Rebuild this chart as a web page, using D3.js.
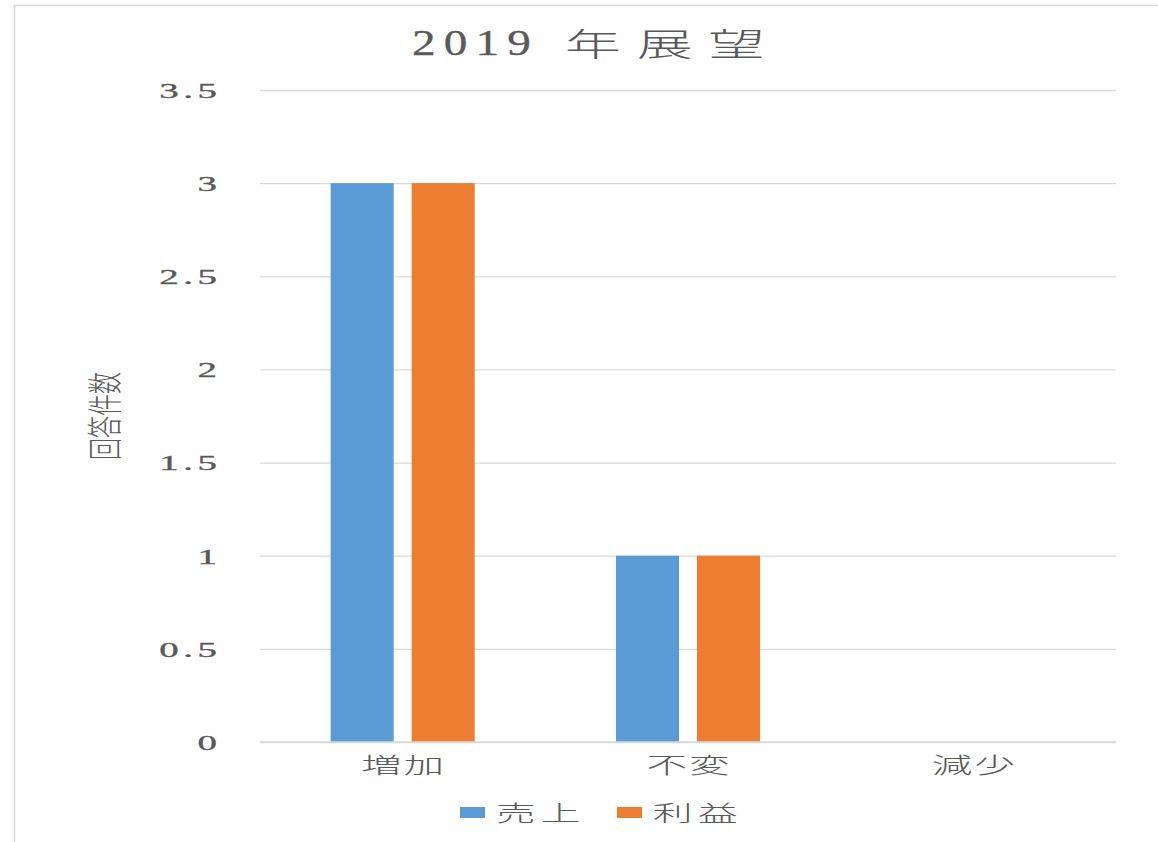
<!DOCTYPE html>
<html><head><meta charset="utf-8">
<script src="https://cdn.jsdelivr.net/npm/d3@7"></script>
<style>body{margin:0;background:#fff}</style>
</head><body>
<svg id="c" width="1158" height="842"></svg>
<script>
const categories = ["増加", "不変", "減少"];
const seriesNames = ["売上", "利益"];
const sales = [3, 1, 0];
const profit = [3, 1, 0];
const yTicks = [0, 0.5, 1, 1.5, 2, 2.5, 3, 3.5];
const colors = ["#5B9BD5", "#ED7D31"];
const titleYear = "2019";
const titleRest = "年展望";
const yLabel = "回答件数";

const svg = d3.select("#c");
const m = {left: 260, right: 1116, top: 90, bottom: 742};
const grey = "#595959";
const CJK = "'Noto Sans CJK JP', sans-serif";
const SERIF = "'Liberation Serif', 'DejaVu Serif', serif";

// frame
svg.append("rect").attr("x", 14.5).attr("y", 5.5).attr("width", 1160).attr("height", 850)
  .attr("fill", "#fff").attr("stroke", "#d9d9d9").attr("stroke-width", 1.5);

const y = d3.scaleLinear().domain([0, 3.5]).range([m.bottom, m.top]);
const x0 = d3.scaleBand().domain(categories).range([m.left, m.right]).padding(0);
const x1 = d3.scaleBand().domain(seriesNames).range([0, x0.bandwidth()])
  .paddingInner(0.222).paddingOuter(0.872);

// gridlines
const gy = svg.append("g").attr("transform", `translate(${m.left},0)`)
  .call(d3.axisLeft(y).tickValues(yTicks).tickSize(-(m.right - m.left)).tickFormat(""));
gy.select(".domain").remove();
gy.selectAll(".tick line").attr("stroke", "#d9d9d9").attr("stroke-width", 1.3);

// y tick labels (horizontally stretched serif)
const yl = svg.append("g").attr("transform", "translate(217,0)")
  .call(d3.axisLeft(y).tickValues(yTicks).tickSize(0).tickPadding(0).tickFormat(d => String(d)));
yl.select(".domain").remove();
yl.selectAll("text")
  .attr("x", 2.5)
  .attr("font-family", SERIF).attr("font-size", 21).attr("font-weight", "normal")
  .attr("stroke", grey).attr("stroke-width", 0.35)
  .attr("fill", grey).attr("letter-spacing", "2.5px").attr("dy", "0.35em")
  .attr("transform", "scale(1.85,1)");

// bars
const data = categories.map((c, i) => ({c, vals: [sales[i], profit[i]]}));
const g = svg.append("g");
data.forEach(d => {
  d.vals.forEach((v, j) => {
    if (v <= 0) return;
    g.append("rect")
      .attr("x", x0(d.c) + x1(seriesNames[j]))
      .attr("y", y(v))
      .attr("width", x1.bandwidth())
      .attr("height", y(0) - y(v))
      .attr("fill", colors[j]);
  });
});

// x axis baseline
svg.append("line").attr("x1", m.left).attr("x2", m.right).attr("y1", y(0)).attr("y2", y(0))
  .attr("stroke", "#d9d9d9").attr("stroke-width", 1.5);

// category labels
const xa = svg.append("g").attr("transform", `translate(0,${y(0)})`)
  .call(d3.axisBottom(x0).tickSize(0).tickPadding(15));
xa.select(".domain").remove();
xa.selectAll("text").attr("font-family", CJK).attr("font-size", 22).attr("font-weight", 300)
  .attr("fill", grey).attr("letter-spacing", "1px").attr("dy", "0.71em")
  .attr("x", 0.5).attr("transform", "scale(1.85,1)");

// title
svg.append("text").attr("transform", "translate(412,55) scale(1.35,1)")
  .attr("font-family", SERIF).attr("font-size", 35).attr("letter-spacing", "6px")
  .attr("stroke", grey).attr("stroke-width", 0.3)
  .attr("fill", grey).text(titleYear);
svg.append("text").attr("transform", "translate(565,56) scale(1.75,1)")
  .attr("font-family", CJK).attr("font-size", 32).attr("font-weight", 300)
  .attr("letter-spacing", "9px").attr("fill", grey).text(titleRest);

// y label
svg.append("text").attr("transform", "translate(105,416) scale(1.6,1) rotate(-90)")
  .attr("text-anchor", "middle").attr("dy", "0.38em")
  .attr("font-family", CJK).attr("font-size", 22).attr("font-weight", 300)
  .attr("fill", grey).text(yLabel);

// legend
const legX = [460, 617];
seriesNames.forEach((s, i) => {
  svg.append("rect").attr("x", legX[i]).attr("y", 807).attr("width", 25).attr("height", 11).attr("fill", colors[i]);
  svg.append("text").attr("transform", `translate(${legX[i] + 36},821) scale(1.8,1)`)
    .attr("font-family", CJK).attr("font-size", 22).attr("font-weight", 300)
    .attr("letter-spacing", "3px").attr("fill", grey).text(s);
});
</script>
</body></html>
